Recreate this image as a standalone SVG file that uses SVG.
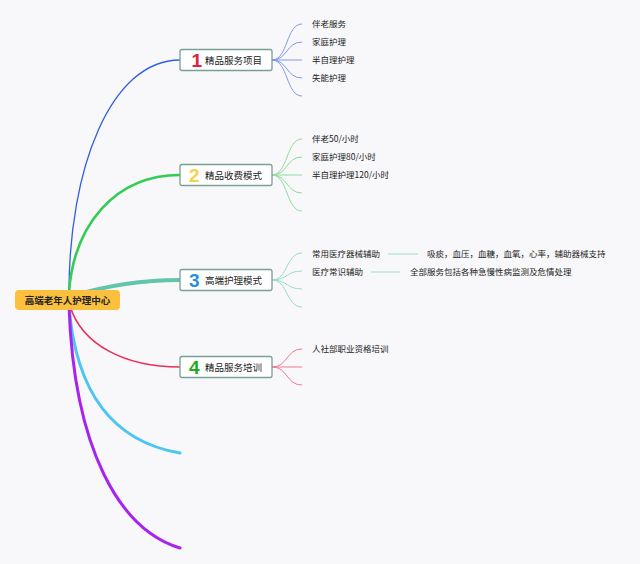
<svg xmlns="http://www.w3.org/2000/svg" width="640" height="564" viewBox="0 0 640 564">
<style>
text{font-family:"Noto Sans CJK SC","Noto Sans",sans-serif;fill:#222}
.t{font-size:8.5px}
.bt{font-size:9.5px}
.num{font-size:19px;font-weight:bold;font-family:"Liberation Sans","Noto Sans",sans-serif}
.box{fill:#fff;stroke:#7a9e96;stroke-width:1.3}
.c{fill:none;stroke-linecap:round}
</style>
<rect width="640" height="564" fill="#f8f8fa"/>
<g id="connectors">
<path class="c" d="M69,292 C69,170 110,60 180,60" stroke="#2f5fde" stroke-width="1.3"/>
<path class="c" d="M69,292 C74,225 115,175 180,175" stroke="#33cc55" stroke-width="2.6"/>
<path class="c" d="M72,296 C105,286 140,280 180,280" stroke="#62c4ad" stroke-width="4"/>
<path class="c" d="M70,306 C82,345 125,367 180,367" stroke="#e8305a" stroke-width="1.6"/>
<path class="c" d="M69,306 C76,395 115,442 180,453" stroke="#4cc6f0" stroke-width="3"/>
<path class="c" d="M69,306 C74,450 120,530 180,548" stroke="#a824ee" stroke-width="3"/>
<g stroke="#7f9ae6" stroke-width="1" fill="none">
<path d="M272,60 C288,60 286,24 302,24"/><path d="M272,60 C288,60 286,42 302,42"/><path d="M272,60 L302,60"/><path d="M272,60 C288,60 286,78 302,78"/><path d="M272,60 C288,60 286,96 302,96"/>
</g>
<g stroke="#8ddc9c" stroke-width="1" fill="none">
<path d="M272,175 C288,175 286,139 302,139"/><path d="M272,175 C288,175 286,157 302,157"/><path d="M272,175 L302,175"/><path d="M272,175 C288,175 286,193 302,193"/><path d="M272,175 C288,175 286,211 302,211"/>
</g>
<g stroke="#9adbc9" stroke-width="1" fill="none">
<path d="M272,280 C288,280 286,253 302,253"/><path d="M272,280 C288,280 286,271 302,271"/><path d="M272,280 C288,280 286,289 302,289"/><path d="M272,280 C288,280 286,307 302,307"/>
<path d="M388,254 L418,254"/><path d="M371,272 L400,272"/>
</g>
<g stroke="#f07a92" stroke-width="1" fill="none">
<path d="M272,367 C288,367 286,349 302,349"/><path d="M272,367 L302,367"/><path d="M272,367 C288,367 286,385 302,385"/>
</g>
</g>
<g id="root">
<rect x="15" y="290" width="105" height="20" rx="4" fill="#fbc03e"/>
<text x="67.5" y="303.5" text-anchor="middle" style="font-size:9.5px;font-weight:bold">高端老年人护理中心</text>
</g>
<g id="n1">
<rect class="box" x="180" y="49.5" width="92" height="21" rx="2"/>
<text class="num" x="191.5" y="67" fill="#dd2244" style="fill:#dd2244">1</text>
<text class="bt" x="205" y="63.5">精品服务项目</text>
</g>
<g id="n2">
<rect class="box" x="180" y="164.5" width="92" height="21" rx="2"/>
<text class="num" x="189" y="182" style="fill:#f5d24a">2</text>
<text class="bt" x="205" y="178.5">精品收费模式</text>
</g>
<g id="n3">
<rect class="box" x="180" y="269.5" width="92" height="21" rx="2"/>
<text class="num" x="189" y="287" style="fill:#2a8fd4">3</text>
<text class="bt" x="205" y="283.5">高端护理模式</text>
</g>
<g id="n4">
<rect class="box" x="180" y="356.5" width="92" height="21" rx="2"/>
<text class="num" x="189" y="374" style="fill:#22aa22">4</text>
<text class="bt" x="205" y="370.5">精品服务培训</text>
</g>
<g id="n1-subs">
<text class="t" x="312" y="27">伴老服务</text>
<text class="t" x="312" y="45">家庭护理</text>
<text class="t" x="312" y="63">半自理护理</text>
<text class="t" x="312" y="81">失能护理</text>
</g>
<g id="n2-subs">
<text class="t" x="312" y="142">伴老50/小时</text>
<text class="t" x="312" y="160">家庭护理80/小时</text>
<text class="t" x="312" y="178">半自理护理120/小时</text>
</g>
<g id="n3-subs">
<text class="t" x="312" y="257">常用医疗器械辅助</text>
<text class="t" x="427" y="257">吸痰，血压，血糖，血氧，心率，辅助器械支持</text>
<text class="t" x="312" y="275">医疗常识辅助</text>
<text class="t" x="410" y="275">全部服务包括各种急慢性病监测及危情处理</text>
</g>
<g id="n4-subs">
<text class="t" x="312" y="352">人社部职业资格培训</text>
</g>
</svg>
